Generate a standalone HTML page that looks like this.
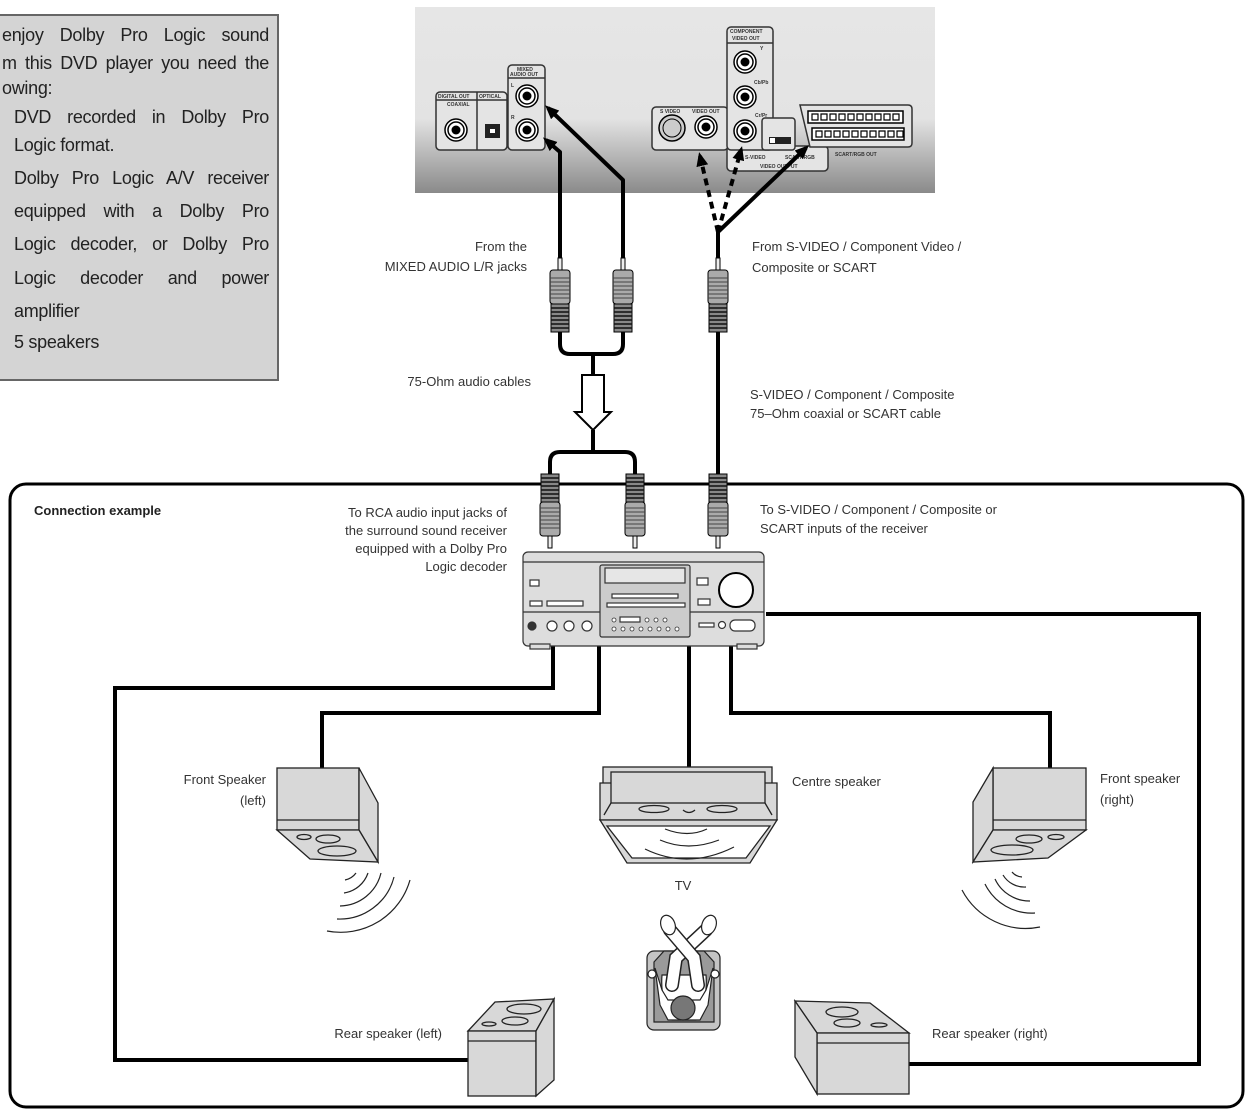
<!DOCTYPE html>
<html><head><meta charset="utf-8"><style>
html,body{margin:0;padding:0;background:#fff;}
svg{display:block;font-family:"Liberation Sans",sans-serif;}
.t{font-size:13px;fill:#333;}
.s{font-size:5px;fill:#333;font-weight:bold;}
#info{position:absolute;left:0;top:14px;width:279px;height:367px;box-sizing:border-box;background:#d4d4d4;border:2px solid #666;border-left:none;font-family:"Liberation Sans",sans-serif;font-size:18px;letter-spacing:-0.3px;color:#222;}
#info div{position:absolute;white-space:nowrap;}
#info .j{text-align:justify;text-align-last:justify;white-space:normal;}
</style></head><body>
<div style="position:relative;width:1246px;height:1115px;overflow:hidden">
<svg width="1246" height="1115" viewBox="0 0 1246 1115" xmlns="http://www.w3.org/2000/svg">
<defs>
<linearGradient id="pg" x1="0" y1="0" x2="0" y2="1">
<stop offset="0" stop-color="#e6e6e6"/><stop offset="0.6" stop-color="#e3e3e3"/><stop offset="1" stop-color="#8a8a8a"/>
</linearGradient>
<g id="plug">
<rect x="-2" y="0" width="4" height="13" fill="#eee" stroke="#000" stroke-width="1"/>
<rect x="-10" y="12" width="20" height="34" rx="3" fill="#aaa" stroke="#000" stroke-width="1"/>
<path d="M-10 20h20M-10 24h20M-10 28h20M-10 32h20M-10 36h20M-10 40h20" stroke="#444" stroke-width="1"/>
<rect x="-9" y="46" width="18" height="28" fill="#888" stroke="#000" stroke-width="1"/>
<path d="M-9 50h18M-9 54h18M-9 58h18M-9 62h18M-9 66h18M-9 70h18" stroke="#111" stroke-width="1.6"/>
</g>
<g id="jack"><circle r="11" fill="#fff" stroke="#000" stroke-width="1.5"/><circle r="8" fill="none" stroke="#000" stroke-width="1.5"/><circle r="4.5" fill="#000"/></g>
<marker id="ah" markerWidth="14" markerHeight="12" refX="10" refY="6" orient="auto" markerUnits="userSpaceOnUse"><path d="M0,0 L14,6 L0,12 z" fill="#000"/></marker>
</defs>

<rect x="415" y="7" width="520" height="186" fill="url(#pg)"/>
<g fill="#e4e4e4" stroke="#333" stroke-width="1.5">
<rect x="436" y="92" width="71" height="58" rx="4"/>
<line x1="477" y1="92" x2="477" y2="150"/>
<line x1="436" y1="100" x2="507" y2="100"/>
<rect x="508" y="65" width="37" height="85" rx="4"/>
<line x1="508" y1="78" x2="545" y2="78"/>
<rect x="652" y="107" width="76" height="43" rx="4"/>
<rect x="727" y="146" width="101" height="25" rx="4"/>
<rect x="727" y="27" width="46" height="123" rx="4"/>
<line x1="727" y1="43" x2="773" y2="43"/>
<rect x="762" y="118" width="33" height="32" rx="3"/>
<path d="M800 105 H908 Q912 105 912 109 V143 Q912 147 908 147 H810 Z"/>
</g>
<g class="s">
<text x="438" y="98">DIGITAL OUT</text><text x="479" y="98">OPTICAL</text><text x="447" y="106">COAXIAL</text>
<text x="517" y="71">MIXED</text><text x="510" y="76">AUDIO OUT</text><text x="511" y="87">L</text><text x="511" y="119">R</text>
<text x="660" y="113">S VIDEO</text><text x="692" y="113">VIDEO OUT</text>
<text x="730" y="33">COMPONENT</text><text x="732" y="40">VIDEO OUT</text><text x="760" y="50">Y</text><text x="754" y="84">Cb/Pb</text><text x="755" y="117">Cr/Pr</text>
<text x="745" y="159">S-VIDEO</text><text x="785" y="159">SCART/RGB</text><text x="760" y="168">VIDEO OUTPUT</text>
<text x="835" y="156">SCART/RGB OUT</text>
</g>
<use href="#jack" x="456" y="130"/>
<rect x="485" y="124" width="15" height="14" fill="#222"/><rect x="490" y="129" width="5" height="4" fill="#fff"/>
<use href="#jack" x="527" y="96"/><use href="#jack" x="527" y="130"/>
<circle cx="672" cy="128" r="13" fill="#ccc" stroke="#000" stroke-width="1.5"/><circle cx="672" cy="128" r="9" fill="none" stroke="#000"/>
<use href="#jack" x="706" y="127"/>
<use href="#jack" x="745" y="62"/><use href="#jack" x="745" y="97"/><use href="#jack" x="745" y="131"/>
<rect x="769" y="137" width="22" height="7" fill="#222"/><rect x="770" y="138" width="5" height="5" fill="#fff"/>
<g fill="#fff" stroke="#000" stroke-width="1.5">
<rect x="808" y="111" width="95" height="12"/><rect x="812" y="128" width="92" height="12"/>
</g>
<g fill="none" stroke="#000" stroke-width="1.2">
<path d="M812 114h6v6h-6zM821 114h6v6h-6zM830 114h6v6h-6zM839 114h6v6h-6zM848 114h6v6h-6zM857 114h6v6h-6zM866 114h6v6h-6zM875 114h6v6h-6zM884 114h6v6h-6zM893 114h6v6h-6z"/>
<path d="M816 131h6v6h-6zM825 131h6v6h-6zM834 131h6v6h-6zM843 131h6v6h-6zM852 131h6v6h-6zM861 131h6v6h-6zM870 131h6v6h-6zM879 131h6v6h-6zM888 131h6v6h-6zM897 131h6v6h-6z"/>
</g>

<g fill="none" stroke="#000" stroke-width="4" stroke-linejoin="round">
<path d="M560 258 V152 L546 140" marker-end="url(#ah)"/>
<path d="M623 258 V180 L548 108" marker-end="url(#ah)"/>
<path d="M718 232 L806 148" marker-end="url(#ah)"/>
</g>
<g fill="none" stroke="#000" stroke-width="4" stroke-dasharray="7,5">
<path d="M718 232 L700 156" marker-end="url(#ah)"/>
<path d="M718 232 L741 150" marker-end="url(#ah)"/>
</g>
<path d="M718 232 V258" stroke="#000" stroke-width="4"/>
<use href="#plug" x="560" y="258"/><use href="#plug" x="623" y="258"/><use href="#plug" x="718" y="258"/>
<g fill="none" stroke="#000" stroke-width="4">
<path d="M560 332 V344 Q560 354 570 354 H613 Q623 354 623 344 V332"/>
<path d="M593 354 V375"/><path d="M593 430 V452"/>
<path d="M550 476 V462 Q550 452 560 452 H625 Q635 452 635 462 V476"/>
<path d="M718 332 V476"/>
</g>
<path d="M582 375 H604 V412 H611 L593 430 L575 412 H582 Z" fill="#fff" stroke="#000" stroke-width="2"/>

<rect x="10" y="484" width="1233" height="623" rx="16" fill="none" stroke="#000" stroke-width="3"/>
<g transform="translate(0,1024) scale(1,-1)">
<use href="#plug" x="550" y="476"/><use href="#plug" x="635" y="476"/><use href="#plug" x="718" y="476"/>
</g>

<g fill="none" stroke="#000" stroke-width="4">
<path d="M766 614 H1199 V1064 H906"/>
<path d="M553 645 V688 H115 V1060 H468"/>
<path d="M599 645 V713 H322 V768"/>
<path d="M689 645 V768"/>
<path d="M731 645 V713 H1050 V768"/>
</g>

<g stroke="#333" stroke-width="1.2" fill="#ddd">
<rect x="523" y="552" width="241" height="94" rx="5"/>
<rect x="530" y="644" width="20" height="5"/><rect x="737" y="644" width="20" height="5"/>
<line x1="523" y1="562" x2="764" y2="562"/>
<line x1="523" y1="612" x2="764" y2="612"/>
<rect x="600" y="565" width="90" height="72" rx="2" fill="#ccc"/>
<rect x="605" y="568" width="80" height="15" fill="#e6e6e6"/>
<rect x="530" y="580" width="9" height="6" fill="#fff"/>
<rect x="530" y="601" width="12" height="5" fill="#fff"/>
<rect x="547" y="601" width="36" height="5" fill="#fff"/>
<rect x="612" y="594" width="66" height="4" fill="#fff"/>
<rect x="607" y="603" width="78" height="4" fill="#fff"/>
<rect x="697" y="578" width="11" height="7" fill="#fff"/>
<rect x="698" y="599" width="12" height="6" fill="#fff"/>
<circle cx="736" cy="590" r="17" fill="#fff" stroke="#000" stroke-width="2"/>
<circle cx="532" cy="626" r="4" fill="#333"/>
<circle cx="552" cy="626" r="5" fill="#fff"/><circle cx="569" cy="626" r="5" fill="#fff"/><circle cx="587" cy="626" r="5" fill="#fff"/>
<rect x="620" y="617" width="20" height="5" fill="#fff"/>
<rect x="699" y="623" width="15" height="4" fill="#fff"/><circle cx="722" cy="625" r="3.5" fill="#fff"/>
<rect x="730" y="620" width="25" height="11" rx="5" fill="#fff"/>
</g>
<g fill="#fff" stroke="#333" stroke-width="0.8">
<circle cx="614" cy="629" r="2"/><circle cx="623" cy="629" r="2"/><circle cx="632" cy="629" r="2"/><circle cx="641" cy="629" r="2"/><circle cx="650" cy="629" r="2"/><circle cx="659" cy="629" r="2"/><circle cx="668" cy="629" r="2"/><circle cx="677" cy="629" r="2"/>
<circle cx="614" cy="620" r="2"/><circle cx="647" cy="620" r="2"/><circle cx="656" cy="620" r="2"/><circle cx="665" cy="620" r="2"/>
</g>

<g stroke="#222" stroke-width="1.3" fill="#d8d8d8">
<rect x="277" y="768" width="82" height="62"/>
<line x1="277" y1="820" x2="359" y2="820"/>
<path d="M359 768 L378 803 V862 L359 830 Z"/>
<path d="M277 830 L310 859 L378 862 L359 830 Z"/>
<ellipse cx="304" cy="837" rx="7" ry="2.5" fill="none"/>
<ellipse cx="328" cy="839" rx="12" ry="4" fill="none"/>
<ellipse cx="337" cy="851" rx="19" ry="5" fill="none"/>
</g>
<g fill="none" stroke="#222" stroke-width="1.2">
<path d="M356 873 A18 18 0 0 1 345 880"/>
<path d="M368 873 A30 30 0 0 1 344 893"/>
<path d="M381 873 A43 43 0 0 1 340 906"/>
<path d="M394 877 A56 56 0 0 1 337 919"/>
<path d="M410 880 A72 72 0 0 1 327 931"/>
</g>

<g stroke="#222" stroke-width="1.3" fill="#d8d8d8">
<rect x="993" y="768" width="93" height="62"/>
<line x1="993" y1="820" x2="1086" y2="820"/>
<path d="M993 768 L973 802 V862 L993 830 Z"/>
<path d="M993 830 L1086 830 L1048 858 L973 862 Z"/>
<ellipse cx="1056" cy="837" rx="8" ry="2.5" fill="none"/>
<ellipse cx="1029" cy="839" rx="13" ry="4" fill="none"/>
<ellipse cx="1012" cy="850" rx="21" ry="5" fill="none"/>
</g>
<g fill="none" stroke="#222" stroke-width="1.2">
<path d="M1012 872 A14 14 0 0 0 1022 877"/>
<path d="M1003 875 A25 25 0 0 0 1026 887"/>
<path d="M995 879 A38 38 0 0 0 1030 901"/>
<path d="M985 884 A52 52 0 0 0 1035 913"/>
<path d="M962 890 A72 72 0 0 0 1040 927"/>
</g>

<g stroke="#222" stroke-width="1.3" fill="#d8d8d8">
<rect x="603" y="767" width="169" height="17"/>
<path d="M600 783 H777 V820 H600 Z"/>
<rect x="611" y="772" width="154" height="31"/>
<path d="M611 803 L604 815 M765 803 L772 815" fill="none"/>
<ellipse cx="654" cy="809" rx="15" ry="3.5" fill="none"/>
<ellipse cx="722" cy="809" rx="15" ry="3.5" fill="none"/>
<path d="M683 810 Q689 815 695 810" fill="none"/>
<path d="M600 820 H777 L750 863 H627 Z"/>
<path d="M607 826 H770 L746 858 H632 Z" fill="#fff"/>
</g>
<g fill="none" stroke="#222" stroke-width="1.2">
<path d="M665 829 Q688 838 707 829"/>
<path d="M660 840 Q688 852 719 840"/>
<path d="M645 849 Q688 870 734 847"/>
</g>

<g stroke="#222" stroke-width="1.2">
<rect x="647" y="951" width="73" height="79" rx="7" fill="#c4c4c4"/>
<path d="M654 962 L664 951 H704 L714 962 V1022 H654 Z" fill="#9a9a9a"/>
<path d="M662 975 Q660 1000 672 1020 H696 Q708 1000 706 975 Z" fill="#fff"/>
<path d="M655 968 L660 1005 L668 1020 H700 L708 1005 L713 968 L706 990 L700 1000 H668 L662 990 Z" fill="#fff"/>
</g>
<g fill="none" stroke-linecap="round">
<path d="M672 985 L676 958 L706 930" stroke="#222" stroke-width="14"/>
<path d="M672 985 L676 958 L706 930" stroke="#fff" stroke-width="11"/>
<path d="M698 985 L694 958 L670 930" stroke="#222" stroke-width="14"/>
<path d="M698 985 L694 958 L670 930" stroke="#fff" stroke-width="11"/>
</g>
<g stroke="#222" stroke-width="1.2" fill="#fff">
<ellipse cx="668" cy="925" rx="7" ry="10" transform="rotate(-20 668 925)"/>
<ellipse cx="709" cy="925" rx="7" ry="10" transform="rotate(20 709 925)"/>
<circle cx="652" cy="974" r="4"/><circle cx="715" cy="974" r="4"/>
<circle cx="683" cy="1008" r="12" fill="#777"/>
</g>

<g stroke="#222" stroke-width="1.3" fill="#d8d8d8">
<path d="M468 1031 L495 1002 L554 999 L536 1031 Z"/>
<rect x="468" y="1031" width="68" height="65"/>
<line x1="468" y1="1041" x2="536" y2="1041"/>
<path d="M536 1031 L554 999 V1080 L536 1096 Z"/>
<ellipse cx="524" cy="1009" rx="17" ry="5" fill="none"/>
<ellipse cx="515" cy="1021" rx="13" ry="4" fill="none"/>
<ellipse cx="489" cy="1024" rx="7" ry="2" fill="none"/>
</g>
<g stroke="#222" stroke-width="1.3" fill="#d8d8d8">
<path d="M795 1001 L870 1003 L909 1033 L817 1033 Z"/>
<rect x="817" y="1033" width="92" height="61"/>
<line x1="817" y1="1043" x2="909" y2="1043"/>
<path d="M795 1001 L817 1033 V1094 L795 1057 Z"/>
<ellipse cx="842" cy="1012" rx="16" ry="5" fill="none"/>
<ellipse cx="847" cy="1023" rx="13" ry="4" fill="none"/>
<ellipse cx="879" cy="1025" rx="8" ry="2" fill="none"/>
</g>

<g class="t">
<text x="527" y="251" text-anchor="end">From the</text>
<text x="527" y="271" text-anchor="end">MIXED AUDIO L/R jacks</text>
<text x="752" y="251">From S-VIDEO / Component Video /</text>
<text x="752" y="272">Composite or SCART</text>
<text x="531" y="386" text-anchor="end">75-Ohm audio cables</text>
<text x="750" y="399">S-VIDEO / Component / Composite</text>
<text x="750" y="418">75–Ohm coaxial or SCART cable</text>
<text x="34" y="515" style="font-weight:bold;fill:#222">Connection example</text>
<text x="507" y="517" text-anchor="end">To RCA audio input jacks of</text>
<text x="507" y="535" text-anchor="end">the surround sound receiver</text>
<text x="507" y="553" text-anchor="end">equipped with a Dolby Pro</text>
<text x="507" y="571" text-anchor="end">Logic decoder</text>
<text x="760" y="514">To S-VIDEO / Component / Composite or</text>
<text x="760" y="533">SCART inputs of the receiver</text>
<text x="266" y="784" text-anchor="end">Front Speaker</text>
<text x="266" y="805" text-anchor="end">(left)</text>
<text x="792" y="786">Centre speaker</text>
<text x="1100" y="783">Front speaker</text>
<text x="1100" y="804">(right)</text>
<text x="683" y="890" text-anchor="middle">TV</text>
<text x="442" y="1038" text-anchor="end">Rear speaker (left)</text>
<text x="932" y="1038">Rear speaker (right)</text>
</g>
</svg>
<div id="info">
<div class="j" style="left:2px;top:9px;width:267px">enjoy Dolby Pro Logic sound</div>
<div class="j" style="left:2px;top:37px;width:267px">m this DVD player you need the</div>
<div style="left:2px;top:62px">owing:</div>
<div class="j" style="left:14px;top:91px;width:255px">DVD recorded in Dolby Pro</div>
<div style="left:14px;top:119px">Logic format.</div>
<div class="j" style="left:14px;top:152px;width:255px">Dolby Pro Logic A/V receiver</div>
<div class="j" style="left:14px;top:185px;width:255px">equipped with a Dolby Pro</div>
<div class="j" style="left:14px;top:218px;width:255px">Logic decoder, or Dolby Pro</div>
<div class="j" style="left:14px;top:252px;width:255px">Logic decoder and power</div>
<div style="left:14px;top:285px">amplifier</div>
<div style="left:14px;top:316px">5 speakers</div>
</div>
</div>
</body></html>
